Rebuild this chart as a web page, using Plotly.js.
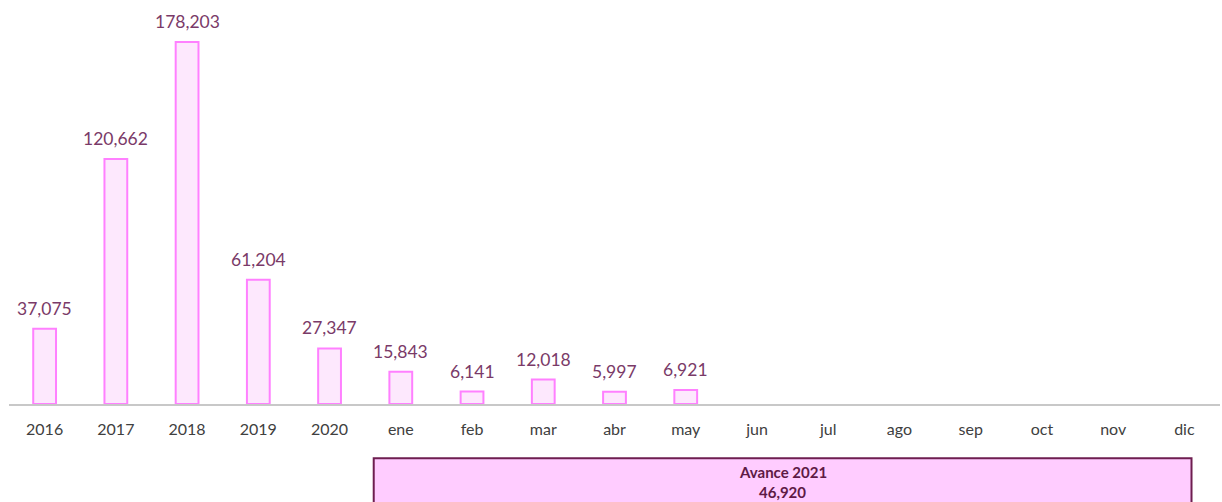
<!DOCTYPE html>
<html><head><meta charset="utf-8">
<script src="https://cdn.plot.ly/plotly-3.0.1.min.js"></script>
<style>html,body{margin:0;padding:0;background:#fff;}#chart{width:1222px;height:502px;}</style>
</head><body><div id="chart"></div>
<script>
const categories = ["2016","2017","2018","2019","2020","ene","feb","mar","abr","may","jun","jul","ago","sep","oct","nov","dic"];
const values = [37075,120662,178203,61204,27347,15843,6141,12018,5997,6921,null,null,null,null,null,null,null];
const boxTitle = "Avance 2021";
const boxTotal = 46920;

const fmt = v => v.toLocaleString("en-US");
const idx = categories.map((c,i)=>i);
const annotations = [];
categories.forEach((c,i)=>{
  if(values[i]!==null){
    annotations.push({x:i,y:values[i],xref:"x",yref:"y",text:fmt(values[i]),showarrow:false,
      yanchor:"bottom",yshift:8,font:{family:"Lato, 'Open Sans', sans-serif",size:17.5,color:"#7A3A68"}});
  }
});
const boxFont = {family:"Lato, 'Open Sans', sans-serif",size:15,color:"#5E1A45"};
const boxX = (4.62+16.1)/2;
annotations.push({x:boxX,y:-0.168,xref:"x",yref:"paper",yanchor:"middle",text:"<b>"+boxTitle+"</b>",showarrow:false,font:boxFont});
annotations.push({x:boxX,y:-0.218,xref:"x",yref:"paper",yanchor:"middle",text:"<b>"+fmt(boxTotal)+"</b>",showarrow:false,font:boxFont});

Plotly.newPlot("chart",[{
  type:"bar",x:idx,y:values,width:0.32,
  marker:{color:"#FDE8FD",line:{color:"#FF80FF",width:2}},
  hoverinfo:"none"
}],{
  width:1222,height:502,
  margin:{l:9,r:2,t:0,b:98},
  paper_bgcolor:"#fff",plot_bgcolor:"#fff",
  showlegend:false,
  xaxis:{range:[-0.5,16.5],tickmode:"array",tickvals:idx,ticktext:categories,
    showline:true,linecolor:"#C8C8C8",linewidth:2,ticks:"",showgrid:false,zeroline:false,
    tickfont:{family:"Lato, 'Open Sans', sans-serif",size:16,color:"#404040"},ticklabelstandoff:10},
  yaxis:{range:[0,198900],visible:false,showgrid:false,zeroline:false},
  shapes:[{type:"rect",xref:"x",yref:"paper",x0:4.62,x1:16.1,y0:-0.134,y1:-0.3,
    fillcolor:"#FFCCFF",line:{color:"#6E1E50",width:2},layer:"below"}],
  annotations:annotations
},{staticPlot:true});
</script></body></html>
